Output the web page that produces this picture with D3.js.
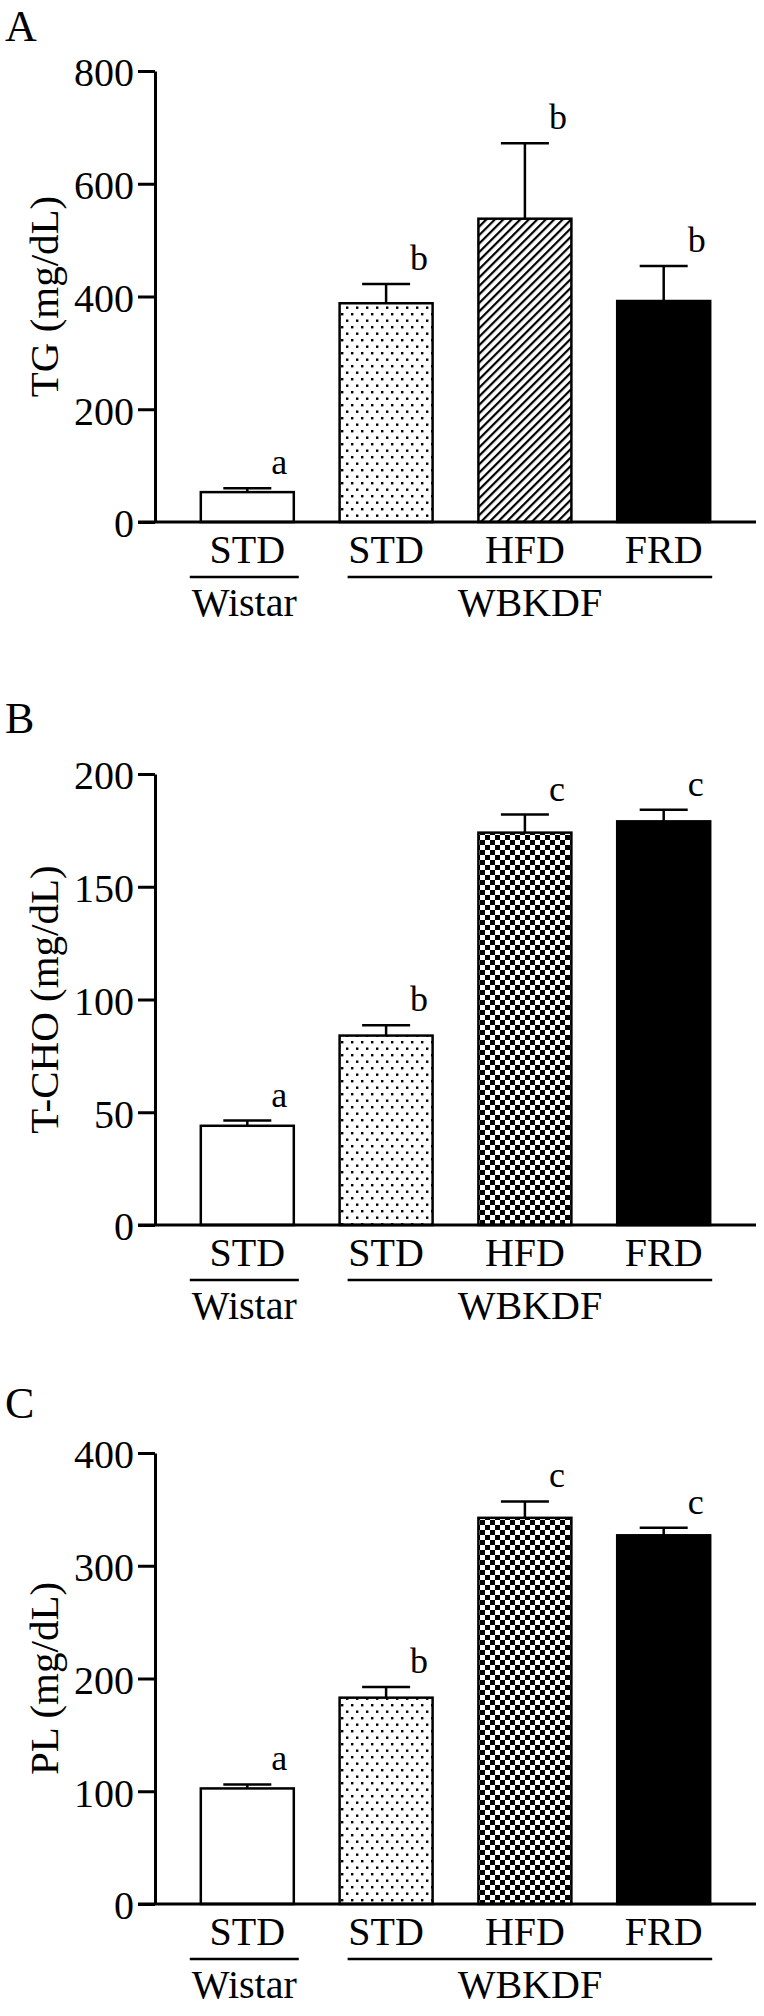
<!DOCTYPE html>
<html>
<head>
<meta charset="utf-8">
<script src="https://cdn.jsdelivr.net/npm/d3@7"></script>
<style>
  body { margin: 0; background: #fff; }
  svg { display: block; font-family: "Liberation Serif", "DejaVu Serif", serif; }
  .axis path, .axis line { stroke: #000; stroke-width: 3; }
</style>
</head>
<body>
<svg id="fig" width="764" height="2016"></svg>
<script>
// groups on the x axis
const categories = ["STD", "STD", "HFD", "FRD"];
const strains = [ {name:"Wistar", from:0, to:0}, {name:"WBKDF", from:1, to:3} ];

// A: triglycerides
const tgMean = [53, 388, 538, 392];
const tgErr = [7, 34, 134, 62];
const tgLetters = ["a", "b", "b", "b"];
const tgTicks = [0, 200, 400, 600, 800];
const tgFills = ["white", "dots", "hatch", "black"];

// B: total cholesterol
const tchoMean = [44, 84, 174, 179];
const tchoErr = [2.3, 4.6, 8, 5.2];
const tchoLetters = ["a", "b", "c", "c"];
const tchoTicks = [0, 50, 100, 150, 200];
const tchoFills = ["white", "dots", "checker", "black"];

// C: phospholipids
const plMean = [102.5, 183, 342.5, 327];
const plErr = [3.5, 9.5, 14.5, 6.7];
const plLetters = ["a", "b", "c", "c"];
const plTicks = [0, 100, 200, 300, 400];
const plFills = ["white", "dots", "checker", "black"];

const panels = [
  {tag:"A", label:"TG (mg/dL)",    mean:tgMean,   err:tgErr,   letters:tgLetters,   ticks:tgTicks,   fills:tgFills,   top:71,   tagY:41},
  {tag:"B", label:"T-CHO (mg/dL)", mean:tchoMean, err:tchoErr, letters:tchoLetters, ticks:tchoTicks, fills:tchoFills, top:774,  tagY:733},
  {tag:"C", label:"PL (mg/dL)",    mean:plMean,   err:plErr,   letters:plLetters,   ticks:plTicks,   fills:plFills,   top:1453, tagY:1418}
];

const serif = '"Liberation Serif", "DejaVu Serif", serif';
const svg = d3.select("#fig");
const defs = svg.append("defs");

// stippled fill
const dots = defs.append("pattern").attr("id","dots").attr("patternUnits","userSpaceOnUse")
  .attr("width",10).attr("height",13);
dots.append("rect").attr("width",10).attr("height",13).attr("fill","#fff");
dots.append("rect").attr("x",1).attr("y",1).attr("width",2.4).attr("height",2.4).attr("fill","#000");
dots.append("rect").attr("x",6).attr("y",7.5).attr("width",2.4).attr("height",2.4).attr("fill","#000");

// diagonal hatch
const hatch = defs.append("pattern").attr("id","hatch").attr("patternUnits","userSpaceOnUse")
  .attr("width",6).attr("height",6).attr("patternTransform","rotate(45)");
hatch.append("rect").attr("width",6).attr("height",6).attr("fill","#fff");
hatch.append("rect").attr("width",2.2).attr("height",6).attr("fill","#000");

// checkerboard
const checker = defs.append("pattern").attr("id","checker").attr("patternUnits","userSpaceOnUse")
  .attr("width",10).attr("height",10);
checker.append("rect").attr("width",10).attr("height",10).attr("fill","#fff");
checker.append("rect").attr("width",5).attr("height",5).attr("fill","#000");
checker.append("rect").attr("x",5).attr("y",5).attr("width",5).attr("height",5).attr("fill","#000");

const fillOf = f => f === "white" ? "#fff" : f === "black" ? "#000" : `url(#${f})`;

const x0 = 155, x1 = 756, plotH = 451;
const x = d3.scaleBand().domain(d3.range(categories.length)).range([x0, x1])
  .paddingInner(0.33).paddingOuter(0.33);

panels.forEach(p => {
  const g = svg.append("g");
  const ticks = p.ticks;
  const y = d3.scaleLinear().domain([0, ticks[ticks.length - 1]]).range([p.top + plotH, p.top]);
  const base = y(0);

  // panel tag
  g.append("text").attr("x", 5).attr("y", p.tagY).attr("font-size", 44).text(p.tag);

  // y axis
  g.append("g").attr("class","axis").attr("transform", `translate(${x0},0)`)
    .call(d3.axisLeft(y).tickValues(ticks).tickSize(17).tickSizeOuter(0).tickPadding(4).tickFormat(d3.format("d")))
    .call(a => a.attr("font-family", serif).attr("font-size", 40))
    .call(a => a.selectAll("text").attr("dy","0.37em").attr("fill","#000")
      .style("font-family", serif).style("font-size", "40px"));

  // y label
  g.append("text").attr("transform", `translate(58,${(y.range()[0] + y.range()[1]) / 2}) rotate(-90)`)
    .attr("text-anchor","middle").attr("font-size", 41).text(p.label);

  // bars
  g.selectAll("rect.bar").data(p.mean).join("rect").attr("class","bar")
    .attr("x", (d, i) => x(i)).attr("width", x.bandwidth())
    .attr("y", d => y(d)).attr("height", d => base - y(d))
    .attr("fill", (d, i) => fillOf(p.fills[i]))
    .attr("stroke", "#000").attr("stroke-width", 2.5);

  // error bars (upper only)
  const cx = i => x(i) + x.bandwidth() / 2;
  g.selectAll("line.err").data(p.mean).join("line").attr("class","err")
    .attr("x1", (d, i) => cx(i)).attr("x2", (d, i) => cx(i))
    .attr("y1", d => y(d)).attr("y2", (d, i) => y(d + p.err[i]))
    .attr("stroke","#000").attr("stroke-width", 2.5);
  g.selectAll("line.cap").data(p.mean).join("line").attr("class","cap")
    .attr("x1", (d, i) => cx(i) - 24).attr("x2", (d, i) => cx(i) + 24)
    .attr("y1", (d, i) => y(d + p.err[i])).attr("y2", (d, i) => y(d + p.err[i]))
    .attr("stroke","#000").attr("stroke-width", 2.5);

  // significance letters
  g.selectAll("text.sig").data(p.letters).join("text").attr("class","sig")
    .attr("x", (d, i) => cx(i) + 24).attr("y", (d, i) => y(p.mean[i] + p.err[i]) - 14)
    .attr("font-size", 36).text(d => d);

  // x axis line
  g.append("line").attr("x1", x0 - 17).attr("x2", x1).attr("y1", base).attr("y2", base)
    .attr("stroke","#000").attr("stroke-width", 3);

  // category labels
  g.selectAll("text.cat").data(categories).join("text").attr("class","cat")
    .attr("x", (d, i) => cx(i)).attr("y", base + 41)
    .attr("text-anchor","middle").attr("font-size", 40).text(d => d);

  // strain brackets
  strains.forEach((s, k) => {
    const lx1 = k === 0 ? x(s.from) - 11 : x(s.from) + 8;
    const lx2 = k === 0 ? x(s.to) + x.bandwidth() + 5 : x(s.to) + x.bandwidth() + 2;
    g.append("line").attr("x1", lx1).attr("x2", lx2).attr("y1", base + 55).attr("y2", base + 55)
      .attr("stroke","#000").attr("stroke-width", 2.5);
    g.append("text").attr("x", (lx1 + lx2) / 2).attr("y", base + 94)
      .attr("text-anchor","middle").attr("font-size", 40).text(s.name);
  });
});
</script>
</body>
</html>
